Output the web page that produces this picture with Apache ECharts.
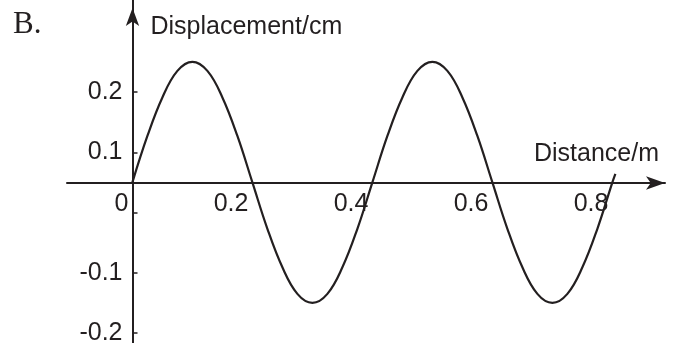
<!DOCTYPE html>
<html>
<head>
<meta charset="utf-8">
<script src="https://cdn.jsdelivr.net/npm/echarts@6/dist/echarts.min.js"></script>
<style>
  html, body { margin: 0; padding: 0; background: #fff; }
  #chart { width: 676px; height: 343px; }
</style>
</head>
<body>
<div id="chart"></div>
<script>
// Wave profile: distance along the rope (m) and displacement (cm)
const distance = [
  0, 0.025, 0.05, 0.075, 0.1, 0.125, 0.15, 0.175, 0.2,
  0.225, 0.25, 0.275, 0.3, 0.325, 0.35, 0.375, 0.4,
  0.425, 0.45, 0.475, 0.5, 0.525, 0.55, 0.575, 0.6,
  0.625, 0.65, 0.675, 0.7, 0.725, 0.75, 0.775, 0.8, 0.805
];
const displacement = [
  0.05, 0.127, 0.191, 0.235, 0.25, 0.235, 0.191, 0.127, 0.05,
  -0.027, -0.091, -0.135, -0.15, -0.135, -0.091, -0.027, 0.05,
  0.127, 0.191, 0.235, 0.25, 0.235, 0.191, 0.127, 0.05,
  -0.027, -0.091, -0.135, -0.15, -0.135, -0.091, -0.027, 0.05, 0.064
];
const xTicks = [0, 0.2, 0.4, 0.6, 0.8];
const yTicks = [-0.2, -0.1, 0, 0.1, 0.2];
const yLabels = [-0.2, -0.1, 0.1, 0.2];

const ink = '#231f20';
const font = 'Liberation Sans, Arial, sans-serif';
const fontSize = 25;

// visible value ranges of the two axes
const xMin = -0.109, xMax = 0.8877;
const yMin = -0.2166, yMax = 0.3527;

const chart = echarts.init(document.getElementById('chart'), null, { renderer: 'canvas' });
chart.setOption({
  animation: false,
  backgroundColor: '#ffffff',
  title: {
    text: 'B.',
    left: 13,
    top: 9,
    padding: 0,
    textStyle: { fontFamily: 'Liberation Serif, Times New Roman, serif', fontWeight: 'normal', fontSize: 31, color: ink }
  },
  grid: { left: 67, right: 11, top: 0, bottom: 0, outerBoundsMode: 'none', containLabel: false },
  xAxis: {
    type: 'value',
    min: xMin,
    max: xMax,
    position: 'bottom',
    offset: -160,
    name: 'Distance/m',
    nameLocation: 'end',
    nameGap: -6,
    nameMoveOverlap: false,
    nameTextStyle: {
      fontFamily: font, fontSize: fontSize, color: ink,
      align: 'right', verticalAlign: 'bottom', lineHeight: 25, padding: [0, 0, 16, 0]
    },
    axisLine: {
      show: true,
      onZero: false,
      symbol: ['none', 'arrow'],
      symbolSize: [10, 19],
      symbolOffset: [0, 0],
      lineStyle: { color: ink, width: 2 }
    },
    axisTick: { show: false },
    splitLine: { show: false },
    axisLabel: {
      customValues: xTicks,
      fontFamily: font, fontSize: fontSize, color: ink,
      align: 'right', margin: 9, padding: [0, 4, 0, 0],
      formatter: v => String(v)
    }
  },
  yAxis: {
    type: 'value',
    min: yMin,
    max: yMax,
    position: 'left',
    offset: -65.5,
    name: 'Displacement/cm',
    nameLocation: 'end',
    nameGap: -27,
    nameMoveOverlap: false,
    nameTextStyle: {
      fontFamily: font, fontSize: fontSize, color: ink,
      align: 'left', verticalAlign: 'middle', padding: [0, 0, 0, 18]
    },
    axisLine: {
      show: true,
      onZero: false,
      symbol: ['none', 'arrow'],
      symbolSize: [10, 18],
      symbolOffset: [0, -8],
      lineStyle: { color: ink, width: 2 }
    },
    axisTick: {
      show: true, inside: true, length: 5,
      customValues: yTicks,
      lineStyle: { color: ink, width: 1.5 }
    },
    splitLine: { show: false },
    axisLabel: {
      customValues: yLabels,
      fontFamily: font, fontSize: fontSize, color: ink, margin: 10,
      formatter: v => String(v)
    }
  },
  series: [{
    type: 'line',
    data: distance.map((d, i) => [d, displacement[i]]),
    smooth: 0.4,
    showSymbol: false,
    symbol: 'none',
    lineStyle: { color: ink, width: 2.2 },
    silent: true
  }]
});
</script>
</body>
</html>
